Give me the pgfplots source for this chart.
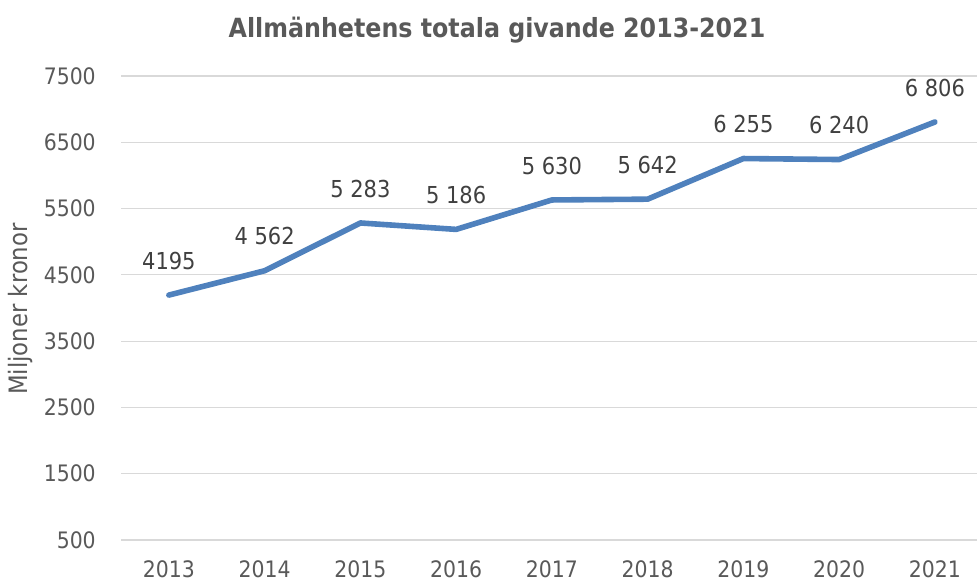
\documentclass[border=0pt]{standalone}
\usepackage{fontspec}
\setmainfont{DejaVu Sans Condensed}
\usepackage{pgfplots}
\pgfplotsset{compat=1.18}
\usepackage{pgfplotstable}
\definecolor{lineblue}{RGB}{79,129,189}
\definecolor{gridgray}{RGB}{217,217,217}
\definecolor{txtgray}{RGB}{89,89,89}
\definecolor{lblgray}{RGB}{64,64,64}
\pgfplotstableread[col sep=comma]{
x,y,lab
0,4195,4195
1,4562,4 562
2,5283,5 283
3,5186,5 186
4,5630,5 630
5,5642,5 642
6,6255,6 255
7,6240,6 240
8,6806,6 806
}\data
\begin{document}
\begin{tikzpicture}
\useasboundingbox (0,0) rectangle (732.75pt,437.25pt);
\begin{axis}[
  at={(90.75pt,32.25pt)}, anchor=south west,
  scale only axis, width=642pt, height=348pt,
  xmin=-0.5, xmax=8.44, ymin=500, ymax=7500,
  ytick={500,1500,...,7500},
  xtick={0,...,8},
  xticklabels={2013,2014,2015,2016,2017,2018,2019,2020,2021},
  ymajorgrids, grid style={gridgray, line width=0.9pt},
  axis line style={draw=none},
  major tick length=0pt,
  /pgf/number format/assume math mode=true,
  /pgf/number format/1000 sep={},
  scaled y ticks=false,
  tick label style={font=\fontsize{17}{20}\selectfont, text=txtgray, inner sep=0pt},
  yticklabel style={anchor=east},
  xticklabel style={anchor=north},
  yticklabel shift=18.75pt,
  xticklabel shift=15pt,
  clip=false,
  nodes near coords,
  point meta=explicit symbolic,
  every node near coord/.append style={font=\fontsize{17.5}{20}\selectfont, text=lblgray, anchor=south, inner sep=0pt, yshift=17pt},
]
\addplot[color=lineblue, line width=4.2pt, line join=round, line cap=round] table[x=x, y=y, meta=lab] {\data};
\end{axis}
\node[font=\bfseries\fontsize{19.8}{24}\selectfont, text=txtgray] at (372.75pt,414.75pt) {Allmänhetens totala givande 2013-2021};
\node[rotate=90, font=\fontsize{19}{22}\selectfont, text=txtgray] at (15.75pt,205.5pt) {Miljoner kronor};
\end{tikzpicture}
\end{document}
